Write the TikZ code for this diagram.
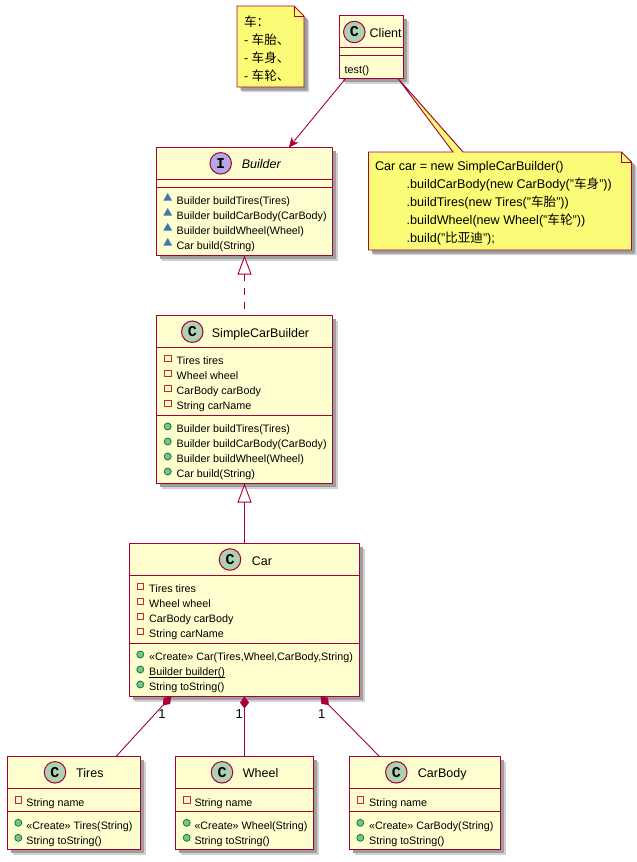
\documentclass[tikz,border=0pt]{standalone}
\usepackage{fontspec}
\setmainfont{Liberation Sans}
\newfontfamily\cjk{Noto Sans CJK SC}
\newfontfamily\badgefont{Liberation Mono}
\usetikzlibrary{arrows.meta,backgrounds,shadows,shapes.geometric}
\definecolor{umlred}{HTML}{A80036}
\definecolor{umlfill}{HTML}{FEFECE}
\definecolor{umlnote}{HTML}{FBFB77}
\definecolor{classgreen}{HTML}{ADD1B2}
\definecolor{ifacepurple}{HTML}{B4A7E5}
\definecolor{privred}{HTML}{C82930}
\definecolor{pubfill}{HTML}{84BE84}
\definecolor{pubedge}{HTML}{038048}
\definecolor{pkgblue}{HTML}{4177AF}
\tikzset{
  softshadow/.style={drop shadow={shadow xshift=5pt,shadow yshift=-5pt,fill=black!18,opacity=1},
    drop shadow={shadow xshift=3.5pt,shadow yshift=-3.5pt,fill=black!38,opacity=1}},
  classbox/.style={draw=umlred,fill=umlfill,line width=1.5pt,inner sep=0pt,outer sep=0pt,softshadow},
  sepline/.style={draw=umlred,line width=1.2pt},
  link/.style={draw=umlred,line width=0.9pt},
  notebody/.style={inner sep=0pt,outer sep=0pt},
  notebox/.style={draw=umlred,fill=umlnote,line width=0.9pt,line join=miter,softshadow},
  notetext/.style={inner sep=0pt,outer sep=0pt,align=left,font=\fontsize{12.6}{18}\selectfont},
  badge/.style={circle,draw=umlred,line width=1pt,minimum size=21.5pt,inner sep=0pt,
    font=\badgefont\bfseries\fontsize{15}{15}\selectfont},
  classname/.style={anchor=west,inner sep=0pt,font=\fontsize{12.5}{14}\selectfont,text height=12.5pt,text depth=1.5pt},
  member/.style={anchor=west,inner sep=0pt,font=\fontsize{10.75}{13}\selectfont,text height=11pt,text depth=1.5pt},
  privicon/.style={draw=privred,line width=0.9pt,minimum size=6.5pt,inner sep=0pt,yshift=1.5pt},
  pubicon/.style={circle,draw=pubedge,fill=pubfill,line width=0.8pt,minimum size=7pt,inner sep=0pt,yshift=1.5pt},
  pkgicon/.style={regular polygon,regular polygon sides=3,fill=pkgblue,minimum size=10pt,inner sep=0pt,yshift=2pt},
  multi/.style={inner sep=0pt,font=\fontsize{13}{15}\selectfont}
}
\begin{document}
\begin{tikzpicture}[x=1pt,y=-1pt]
  \useasboundingbox (0,0) rectangle (637,862);
  % notes
  \node[notebody,minimum width=67pt,minimum height=81pt] (carnote) at (270.5,46.5) {};
  \node[notebody,minimum width=263pt,minimum height=98pt] (usagenote) at (500,201) {};
  \begin{pgfonlayer}{background}
    \node[classbox,minimum width=64pt,minimum height=63pt] (client) at (371.5,47) {};
    \path[notebox] (carnote.north west) -- ([xshift=-10pt]carnote.north east) -- ([yshift=-10pt]carnote.north east)
      -- (carnote.south east) -- (carnote.south west) -- cycle;
    \draw[umlred,line width=0.9pt] ([xshift=-10pt]carnote.north east) -- ++(0,10) -- ([yshift=-10pt]carnote.north east);
    \path[notebox] (usagenote.north west) -- ([xshift=-47pt]usagenote.north) -- ([xshift=-5.5pt]client.south east)
      -- ([xshift=-37pt]usagenote.north) -- ([xshift=-10pt]usagenote.north east) -- ([yshift=-10pt]usagenote.north east)
      -- (usagenote.south east) -- (usagenote.south west) -- cycle;
    \draw[umlred,line width=0.9pt] ([xshift=-10pt]usagenote.north east) -- ++(0,10) -- ([yshift=-10pt]usagenote.north east);
  \end{pgfonlayer}
  \node[notetext,anchor=west] (carnotetext) at (244,49)
    {{\cjk 车：}\\- {\cjk 车胎、}\\- {\cjk 车身、}\\- {\cjk 车轮、}};
  \node[notetext,anchor=west] (usagetext) at (375,203.5)
    {Car car = new SimpleCarBuilder()\\
     \hspace*{31.7pt}.buildCarBody(new CarBody("{\cjk 车身}"))\\
     \hspace*{31.7pt}.buildTires(new Tires("{\cjk 车胎}"))\\
     \hspace*{31.7pt}.buildWheel(new Wheel("{\cjk 车轮}"))\\
     \hspace*{31.7pt}.build("{\cjk 比亚迪}");};
  % classes
  \node[classbox,minimum width=176pt,minimum height=108pt] (builder) at (244.5,201.5) {};
  \node[classbox,minimum width=176pt,minimum height=168pt] (simplecar) at (244.5,399.5) {};
  \node[classbox,minimum width=230pt,minimum height=153pt] (car) at (244.5,620) {};
  \node[classbox,minimum width=133pt,minimum height=93pt] (tires) at (74,803) {};
  \node[classbox,minimum width=138pt,minimum height=93pt] (wheel) at (244.5,803) {};
  \node[classbox,minimum width=151pt,minimum height=93pt] (carbody) at (425,803) {};
  % compartments
  \foreach \c/\ya/\yb in {client/47.5/55.5,builder/179.5/187.5,simplecar/347.5/415.5,car/575.5/643.5,
      tires/788.5/811.5,wheel/788.5/811.5,carbody/788.5/811.5}{
    \draw[sepline] (\c.west |- 0,\ya) -- (\c.east |- 0,\ya);
    \draw[sepline] (\c.west |- 0,\yb) -- (\c.east |- 0,\yb);
  }
  % headers
  \node[badge,fill=classgreen] (clientbadge) at (354.3,32) {C};
  \node[classname] (clientname) at (369.5,32) {Client};
  \node[badge,fill=ifacepurple] (builderbadge) at (220.7,163.3) {I};
  \node[classname,font=\fontsize{12.5}{14}\selectfont\itshape] (buildername) at (241.7,163.3) {Builder};
  \node[badge,fill=classgreen] (simplecarbadge) at (192.3,331.7) {C};
  \node[classname] (simplecarname) at (211.7,331.7) {SimpleCarBuilder};
  \node[badge,fill=classgreen] (carbadge) at (230,559.5) {C};
  \node[classname] (carname) at (251.7,559.5) {Car};
  \node[badge,fill=classgreen] (tiresbadge) at (55,772.3) {C};
  \node[classname] (tiresname) at (76,772.3) {Tires};
  \node[badge,fill=classgreen] (wheelbadge) at (222,772.3) {C};
  \node[classname] (wheelname) at (242.7,772.3) {Wheel};
  \node[badge,fill=classgreen] (carbodybadge) at (396.3,772.3) {C};
  \node[classname] (carbodyname) at (417.7,772.3) {CarBody};
  % members
  \node[member] (clienttest) at (344.5,68.5) {test()};
  \foreach \y/\t [count=\i] in {200/Builder buildTires(Tires),215/Builder buildCarBody(CarBody),
      230/Builder buildWheel(Wheel),245/Car build(String)}{
    \node[pkgicon] (builderi\i) at (167.7,\y) {};
    \node[member] (buildert\i) at (176.5,\y) {\t};
  }
  \foreach \y/\t [count=\i] in {360/Tires tires,375/Wheel wheel,390/CarBody carBody,405/String carName}{
    \node[privicon] (simplecarfi\i) at (167.7,\y) {};
    \node[member] (simplecarft\i) at (176.5,\y) {\t};
  }
  \foreach \y/\t [count=\i] in {428/Builder buildTires(Tires),443/Builder buildCarBody(CarBody),
      458/Builder buildWheel(Wheel),473/Car build(String)}{
    \node[pubicon] (simplecari\i) at (167.7,\y) {};
    \node[member] (simplecart\i) at (176.5,\y) {\t};
  }
  \foreach \y/\t [count=\i] in {588/Tires tires,603/Wheel wheel,618/CarBody carBody,633/String carName}{
    \node[privicon] (carfi\i) at (140.3,\y) {};
    \node[member] (carft\i) at (149,\y) {\t};
  }
  \foreach \y/\t [count=\i] in {656/{«Create» Car(Tires,Wheel,CarBody,String)},671/{\underline{\smash{Builder builder()}}},686/String toString()}{
    \node[pubicon] (cari\i) at (140.3,\y) {};
    \node[member] (cart\i) at (149,\y) {\t};
  }
  \foreach \c/\xi/\xt/\t in {tires/18.3/26.3/Tires,wheel/186.7/194.3/Wheel,carbody/360.3/369/CarBody}{
    \node[privicon] (\c fi) at (\xi,801.3) {};
    \node[member] (\c ft) at (\xt,801.3) {String name};
    \node[pubicon] (\c ia) at (\xi,824.3) {};
    \node[member] (\c ta) at (\xt,824.3) {«Create» \t(String)};
    \node[pubicon] (\c ib) at (\xi,839.3) {};
    \node[member] (\c tb) at (\xt,839.3) {String toString()};
  }
  % links
  \draw[link,-{Stealth[length=10pt,width=9pt,inset=3pt]}] (client) -- (builder);
  \draw[link,dash pattern=on 7pt off 7pt,{Triangle[open,fill=white,length=19pt,width=14pt]}-] (builder.south) -- (simplecar.north);
  \draw[link,{Triangle[open,fill=white,length=19pt,width=14pt]}-] (simplecar.south) -- (car.north);
  \draw[link,{Diamond[length=12pt,width=9pt]}-] ([xshift=-73.5pt]car.south) -- ([xshift=42pt]tires.north);
  \draw[link,{Diamond[length=12pt,width=9pt]}-] (car.south) -- (wheel.north);
  \draw[link,{Diamond[length=12pt,width=9pt]}-] ([xshift=76pt]car.south) -- ([xshift=-45.5pt]carbody.north);
  \node[multi] (tiresmult) at (162,714) {1};
  \node[multi] (wheelmult) at (239.3,714) {1};
  \node[multi] (carbodymult) at (321.7,714) {1};
\end{tikzpicture}
\end{document}
